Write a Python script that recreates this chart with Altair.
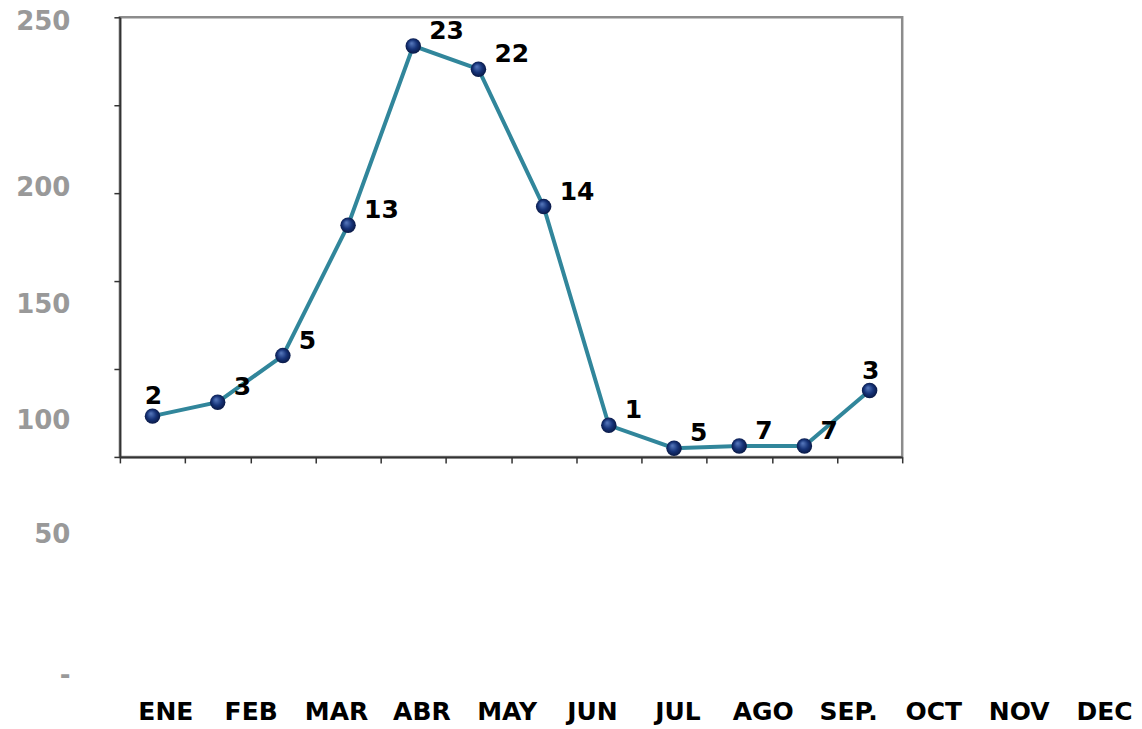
import altair as alt
import pandas as pd

# ---- data ----
meses = ["ENE", "FEB", "MAR", "ABR", "MAY", "JUN", "JUL", "AGO", "SEP.", "OCT", "NOV", "DEC"]
valores = [101, 107, 127, 183, 242, 235, 191, 97, 87, 88, 88, 112]
etiquetas = [2, 3, 5, 13, 23, 22, 14, 1, 5, 7, 7, 3]
ticks_y = [0, 50, 100, 150, 200, 250]

df = pd.DataFrame({
    "mes": meses,
    "valor": valores,
    "etiqueta": etiquetas,
    "orden": list(range(len(meses))),
})

FONT = "DejaVu Sans"
DARK = "#333333"

# plot-area frame: ticks only (left and bottom)
frame = alt.Chart(df).mark_point(opacity=0).encode(
    x=alt.X("mes:N", sort=meses,
            scale=alt.Scale(type="band", paddingInner=0, paddingOuter=0),
            axis=alt.Axis(orient="bottom", labels=False, title=None, grid=False,
                          tickBand="extent", tickSize=6, tickColor=DARK, tickWidth=1.5,
                          domainColor=DARK, domainWidth=2)),
    y=alt.Y("valor:Q",
            scale=alt.Scale(domain=[0, 250], nice=False, zero=False),
            axis=alt.Axis(orient="left", labels=False, title=None, grid=False,
                          values=ticks_y, tickSize=6, tickColor=DARK, tickWidth=1.5,
                          domainColor=DARK, domainWidth=2)),
)

# data series, on the value scale shown by the grey labels
base = alt.Chart(df).encode(
    x=alt.X("mes:N", sort=meses, scale=alt.Scale(type="point", padding=0.5), axis=None),
    y=alt.Y("valor:Q",
            scale=alt.Scale(domain=ticks_y, range=[657, 516, 401.5, 285, 168.5, 2],
                            nice=False, zero=False),
            axis=alt.Axis(orient="left", values=ticks_y, title=None, grid=False,
                          domain=False, ticks=False, tickSize=0, labelPadding=50,
                          labelOffset=2, labelFont=FONT, labelFontSize=26,
                          labelFontWeight="bold", labelColor="#999999",
                          labelOverlap=False,
                          labelExpr="datum.value == 0 ? '-\u00a0\u00a0' : datum.label")),
)

linea = base.mark_line(color="#31869b", strokeWidth=4)

esfera = alt.RadialGradient(
    gradient="radial",
    stops=[alt.GradientStop(color="#5a7cc0", offset=0),
           alt.GradientStop(color="#163378", offset=0.55),
           alt.GradientStop(color="#07143c", offset=1)],
    x1=0.38, y1=0.32, r1=0, x2=0.5, y2=0.5, r2=0.55,
)
puntos = base.mark_circle(fill=esfera, size=240, opacity=1)

texto_medio = base.transform_filter(
    (alt.datum.orden > 0) & (alt.datum.orden < 11)
).mark_text(align="left", baseline="middle", dx=16, dy=-15, font=FONT,
            fontSize=25, fontWeight="bold", color="black").encode(text="etiqueta:N")

texto_borde = base.transform_filter(
    (alt.datum.orden == 0) | (alt.datum.orden == 11)
).mark_text(align="center", baseline="middle", dx=1, dy=-20, font=FONT,
            fontSize=25, fontWeight="bold", color="black").encode(text="etiqueta:N")

serie = alt.layer(linea, puntos, texto_medio, texto_borde)

# month labels row below the plot
meses_eje = alt.Chart(df).mark_point(opacity=0).encode(
    x=alt.X("mes:N", sort=meses,
            scale=alt.Scale(type="point", range=[45.5, 985], padding=0),
            axis=alt.Axis(orient="bottom", title=None, grid=False, domain=False,
                          ticks=False, tickSize=0, labelPadding=255, labelAngle=0,
                          labelBaseline="middle", labelFont=FONT, labelFontSize=25,
                          labelFontWeight="bold", labelColor="black",
                          labelOverlap=False)),
)

chart = alt.layer(frame, serie, meses_eje).resolve_scale(
    x="independent", y="independent"
).properties(
    width=783,
    height=440,
    autosize=alt.AutoSizeParams(type="none"),
    padding={"left": 112, "top": 9, "right": 232, "bottom": 269},
).configure_view(
    stroke="#8c8c8c", strokeWidth=2.5
)

chart.save("out.html", embed_options={"renderer": "svg", "actions": False})
